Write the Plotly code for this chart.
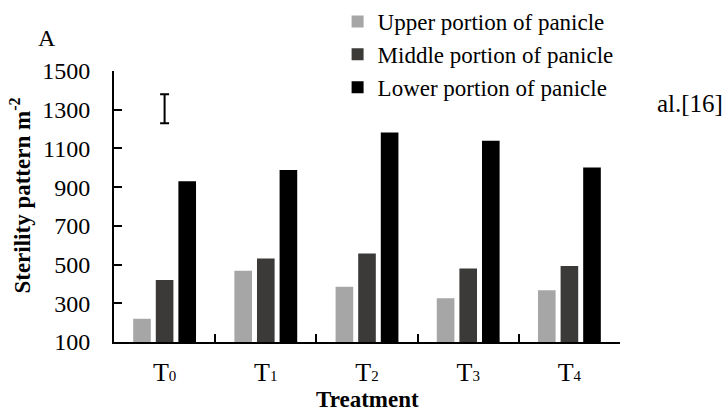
import plotly.graph_objects as go

# Sterility pattern per treatment, split by panicle portion
treatments = ["T0", "T1", "T2", "T3", "T4"]
tick_text = [f"T<span style='font-size:15px'>{i}</span>" for i in range(5)]
upper = [220, 468, 385, 326, 367]
middle = [420, 531, 557, 480, 493]
lower = [930, 989, 1182, 1140, 1002]

# LSD-style reference bar drawn over the first treatment
ref_bar_center = [1305]
ref_bar_half = [75]

series_names = ["Upper portion of panicle", "Middle portion of panicle", "Lower portion of panicle"]
series_colors = ["#a6a6a6", "#3b3a38", "#000000"]

FONT = "Liberation Serif, serif"

fig = go.Figure()
for name, vals, col in zip(series_names, [upper, middle, lower], series_colors):
    fig.add_trace(go.Bar(
        x=treatments, y=vals,
        name=f"<span style='font-family:Liberation Serif'>{name}</span>",
        marker=dict(color=col, line=dict(width=0)),
    ))

fig.add_trace(go.Scatter(
    x=[treatments[0]], y=ref_bar_center, mode="markers",
    marker=dict(size=1, color="rgba(0,0,0,0)"),
    error_y=dict(type="data", array=ref_bar_half, color="black", thickness=2, width=4.5),
    showlegend=False, hoverinfo="skip",
))

fig.update_layout(
    width=726, height=413,
    margin=dict(l=114, r=106, t=71, b=71, autoexpand=False),
    paper_bgcolor="white", plot_bgcolor="white",
    font=dict(family=FONT, size=23, color="black"),
    barmode="group", bargap=0.33, bargroupgap=0.22,
    showlegend=True,
    legend=dict(
        xref="container", yref="container",
        x=0.465, y=1.012, xanchor="left", yanchor="top",
        font=dict(family=FONT, size=23, color="black"),
        bgcolor="rgba(0,0,0,0)", itemwidth=30, traceorder="normal",
        tracegroupgap=0,
    ),
    xaxis=dict(
        tickmode="array", tickvals=treatments, ticktext=tick_text,
        tickson="boundaries", ticks="inside", ticklen=8, tickwidth=2, tickcolor="black",
        showline=True, linecolor="black", linewidth=2, showgrid=False, automargin=False,
        ticklabelstandoff=6, tickfont=dict(family=FONT, size=26),
    ),
    yaxis=dict(
        range=[100, 1500], tick0=100, dtick=200,
        ticks="inside", ticklen=8, tickwidth=2, tickcolor="black",
        showline=True, linecolor="black", linewidth=2, showgrid=False, zeroline=False,
        automargin=False, ticklabelstandoff=17, tickfont=dict(family=FONT, size=24),
    ),
    annotations=[
        dict(text="<b>Sterility pattern m<sup>-2</sup></b>", xref="paper", yref="paper",
             x=-0.184, y=0.54, xanchor="center", yanchor="middle", textangle=-90,
             showarrow=False, font=dict(family=FONT, size=23)),
        dict(text="<b>Treatment</b>", xref="paper", yref="paper",
             x=0.5, y=-0.213, xanchor="center", yanchor="middle",
             showarrow=False, font=dict(family=FONT, size=23)),
        dict(text="A", xref="paper", yref="paper", x=-0.133, y=1.12, xanchor="center", yanchor="middle",
             showarrow=False, font=dict(family=FONT, size=24)),
        dict(text="al.[16]", xref="paper", yref="paper", x=1.07, y=0.88, xanchor="left", yanchor="middle",
             showarrow=False, font=dict(family=FONT, size=25)),
    ],
)

fig.write_html("out.html")
